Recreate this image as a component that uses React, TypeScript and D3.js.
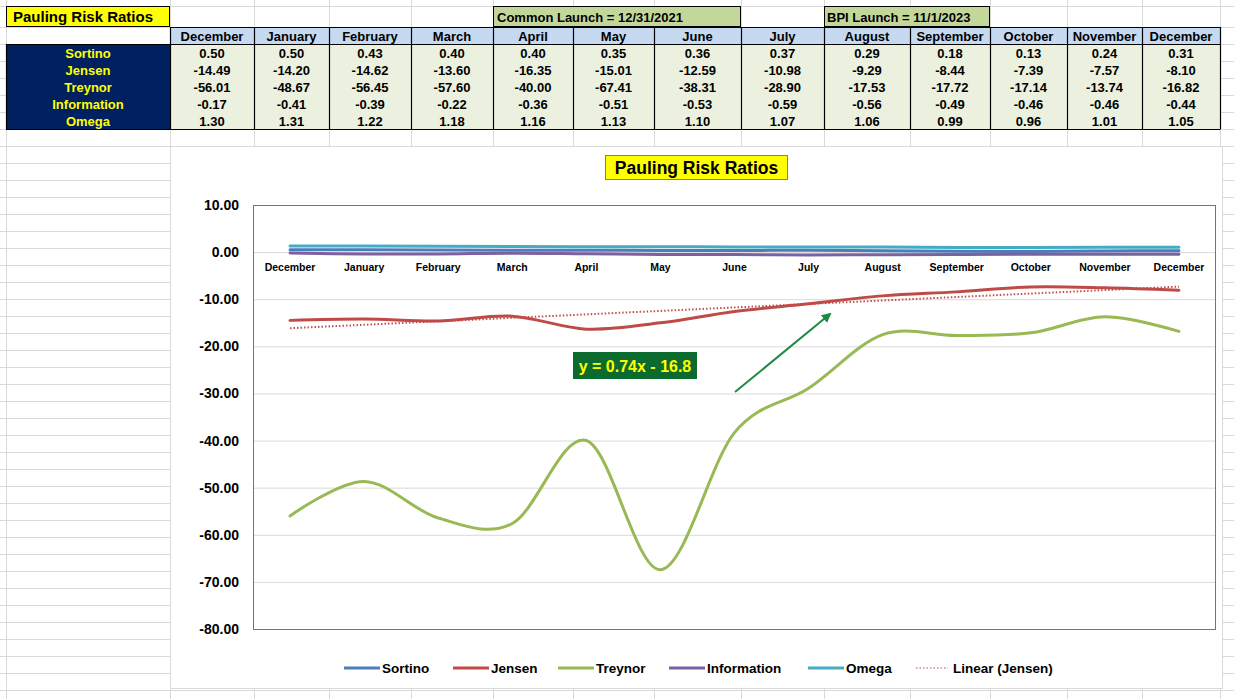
import React from 'react';
import * as d3 from 'd3';

// months shown in the table and along the chart's category axis
const months = ['December', 'January', 'February', 'March', 'April', 'May', 'June', 'July', 'August', 'September', 'October', 'November', 'December'];

const sortino = [0.50, 0.50, 0.43, 0.40, 0.40, 0.35, 0.36, 0.37, 0.29, 0.18, 0.13, 0.24, 0.31];
const jensen = [-14.49, -14.20, -14.62, -13.60, -16.35, -15.01, -12.59, -10.98, -9.29, -8.44, -7.39, -7.57, -8.10];
const treynor = [-56.01, -48.67, -56.45, -57.60, -40.00, -67.41, -38.31, -28.90, -17.53, -17.72, -17.14, -13.74, -16.82];
const information = [-0.17, -0.41, -0.39, -0.22, -0.36, -0.51, -0.53, -0.59, -0.56, -0.49, -0.46, -0.46, -0.44];
const omega = [1.30, 1.31, 1.22, 1.18, 1.16, 1.13, 1.10, 1.07, 1.06, 0.99, 0.96, 1.01, 1.05];

const yTicks = [10, 0, -10, -20, -30, -40, -50, -60, -70, -80];
const trendLabel = 'y = 0.74x - 16.8';

const series = [
  { name: 'Sortino', values: sortino, color: '#4A7EBB' },
  { name: 'Jensen', values: jensen, color: '#BE4B48' },
  { name: 'Treynor', values: treynor, color: '#98B954' },
  { name: 'Information', values: information, color: '#7D60A0' },
  { name: 'Omega', values: omega, color: '#46AAC5' },
];

const FONT = '"Liberation Sans", Arial, sans-serif';
const W = 1234;
const H = 699;

// spreadsheet layout
const colEdges = [170, 254, 329, 411, 493, 573, 654, 741, 824, 910, 990, 1067, 1142, 1220];
const rowEdges = [6, ...d3.range(27, H + 1, 17)];

// legend swatch start per series
const legendX = [344, 453, 558, 669, 808];

const App: React.FC = () => {
  const x = d3.scaleBand<number>().domain(d3.range(months.length)).range([253, 1216]);
  const y = d3.scaleLinear().domain([-80, 10]).range([629, 205]);
  const cx = (i: number) => (x(i) as number) + x.bandwidth() / 2;

  const line = d3.line<number>()
    .x((_, i) => cx(i))
    .y(d => y(d))
    .curve(d3.curveCardinal.tension(0));

  // linear trend of Jensen, x = 1..n like Excel
  const xs = jensen.map((_, i) => i + 1);
  const mx = d3.mean(xs) as number;
  const my = d3.mean(jensen) as number;
  const slope = d3.sum(xs, (v, i) => (v - mx) * (jensen[i] - my)) / d3.sum(xs, v => (v - mx) ** 2);
  const intercept = my - slope * mx;
  const trendY = (k: number) => y(slope * (k + 1) + intercept);

  return (
    <svg width={W} height={H} style={{ position: 'absolute', left: 0, top: 0, background: '#fff' }} fontFamily={FONT}>
      <defs>
        <marker id="arrow" viewBox="0 0 10 10" refX="8" refY="5" markerWidth="5" markerHeight="5" orient="auto">
          <path d="M0,0 L10,5 L0,10 z" fill="#1E8A43" />
        </marker>
      </defs>

      {/* sheet gridlines */}
      <g stroke="#D9D9D9" strokeWidth={1}>
        {[6, ...colEdges].map(v => <line key={'v' + v} x1={v + 0.5} x2={v + 0.5} y1={0} y2={H} />)}
        {rowEdges.map(v => <line key={'h' + v} x1={0} x2={W} y1={v + 0.5} y2={v + 0.5} />)}
      </g>

      {/* title cells */}
      <rect x={6.5} y={6.5} width={163} height={20} fill="#FFFF00" stroke="#000" />
      <text x={13} y={22} fontSize={15} fontWeight="bold">Pauling Risk Ratios</text>
      <rect x={493.5} y={6.5} width={247} height={20} fill="#C4D79B" stroke="#000" />
      <text x={497} y={22} fontSize={13} fontWeight="bold">Common Launch = 12/31/2021</text>
      <rect x={824.5} y={6.5} width={165} height={20} fill="#C4D79B" stroke="#000" />
      <text x={827} y={22} fontSize={13} fontWeight="bold">BPI Launch = 11/1/2023</text>

      {/* table */}
      <rect x={6} y={44} width={164} height={85} fill="#002060" />
      {series.map((s, r) => (
        <text key={s.name} x={88} y={57.5 + r * 17} fontSize={13} fontWeight="bold" fill="#FFFF00" textAnchor="middle">{s.name}</text>
      ))}
      {months.map((m, c) => (
        <g key={'c' + c}>
          <rect x={colEdges[c]} y={27} width={colEdges[c + 1] - colEdges[c]} height={17} fill="#C5D9F1" />
          <rect x={colEdges[c]} y={44} width={colEdges[c + 1] - colEdges[c]} height={85} fill="#EBF1DE" />
          <text x={(colEdges[c] + colEdges[c + 1]) / 2} y={40.5} fontSize={13} fontWeight="bold" textAnchor="middle">{m}</text>
          {series.map((s, r) => (
            <text key={s.name} x={(colEdges[c] + colEdges[c + 1]) / 2} y={57.5 + r * 17} fontSize={13} fontWeight="bold" textAnchor="middle">
              {s.values[c].toFixed(2)}
            </text>
          ))}
        </g>
      ))}
      <g stroke="#000" strokeWidth={1.2} fill="none">
        {colEdges.map(v => <line key={'tb' + v} x1={v + 0.5} x2={v + 0.5} y1={27} y2={129} />)}
        <line x1={170} x2={1220.5} y1={27.5} y2={27.5} />
        <line x1={6} x2={1220.5} y1={44.5} y2={44.5} />
        <line x1={6} x2={1220.5} y1={129.5} y2={129.5} />
        <line x1={6.5} x2={6.5} y1={44} y2={129.5} />
      </g>

      {/* chart area */}
      <rect x={170.5} y={146.5} width={1052} height={542} fill="#fff" stroke="#D9D9D9" />
      <rect x={605.5} y={155.5} width={182} height={24} fill="#FFFF00" stroke="#7F7F7F" />
      <text x={696.5} y={174} fontSize={17.5} fontWeight="bold" textAnchor="middle">Pauling Risk Ratios</text>

      {/* gridlines + y axis */}
      {yTicks.map(t => (
        <g key={t}>
          <line x1={253} x2={1216} y1={y(t) + 0.5} y2={y(t) + 0.5} stroke="#D9D9D9" />
          <text x={239} y={y(t) + 5} fontSize={14} fontWeight="bold" textAnchor="end">{t.toFixed(2)}</text>
        </g>
      ))}
      <rect x={253.5} y={205.5} width={962} height={424} fill="none" stroke="#5B7B95" />

      {/* category labels */}
      {months.map((m, i) => (
        <text key={'x' + i} x={cx(i)} y={271} fontSize={10.5} fontWeight="bold" textAnchor="middle">{m}</text>
      ))}

      {/* trendline */}
      <line x1={cx(0)} y1={trendY(0)} x2={cx(months.length - 1)} y2={trendY(months.length - 1)}
        stroke="#C0504D" strokeWidth={2} strokeDasharray="1.5 2" />

      {/* series */}
      {series.map(s => (
        <path key={s.name} d={line(s.values) || ''} fill="none" stroke={s.color} strokeWidth={3} strokeLinejoin="round" strokeLinecap="round" />
      ))}

      {/* annotation */}
      <rect x={573} y={352} width={124} height={27} fill="#0B6B2E" />
      <text x={635} y={371.5} fontSize={16} fontWeight="bold" fill="#FFFF00" textAnchor="middle">{trendLabel}</text>
      <line x1={735} y1={392} x2={830} y2={314} stroke="#1E8A43" strokeWidth={2} markerEnd="url(#arrow)" />

      {/* legend */}
      {series.map((s, i) => (
        <g key={'lg' + s.name}>
          <line x1={legendX[i]} x2={legendX[i] + 36} y1={668} y2={668} stroke={s.color} strokeWidth={3} />
          <text x={legendX[i] + 38} y={672.5} fontSize={13.5} fontWeight="bold">{s.name}</text>
        </g>
      ))}
      <line x1={916} x2={948} y1={668} y2={668} stroke="#C98A88" strokeWidth={1.5} strokeDasharray="1.5 2" />
      <text x={953} y={672.5} fontSize={13.5} fontWeight="bold">Linear (Jensen)</text>
    </svg>
  );
};

export default App;
